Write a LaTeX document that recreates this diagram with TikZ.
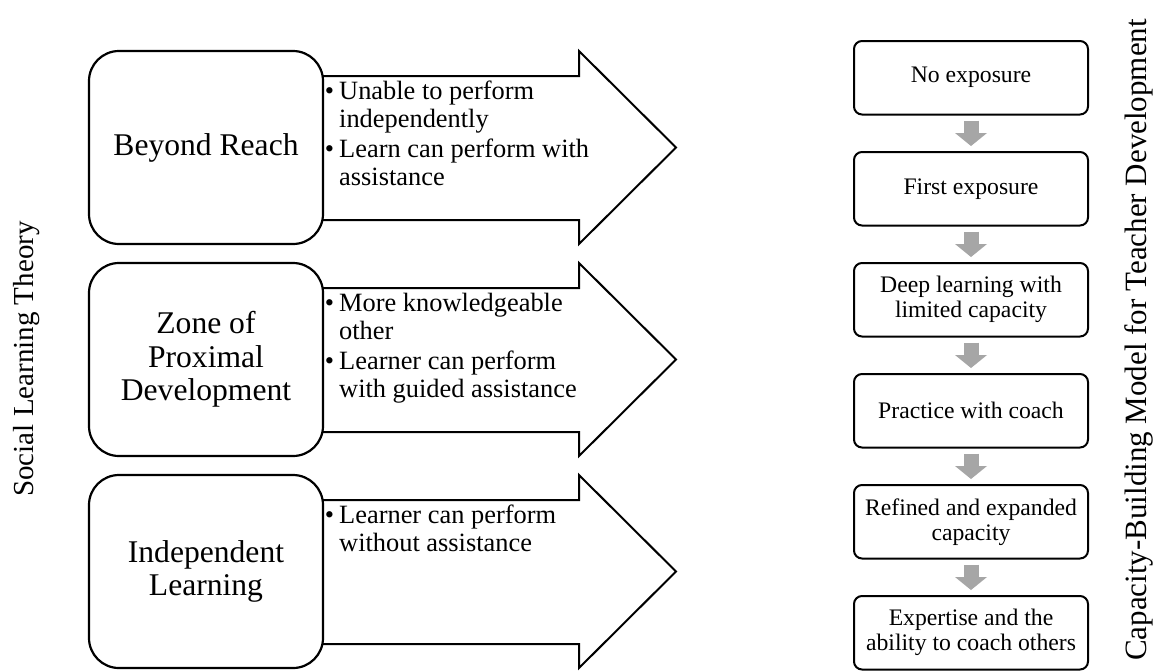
\documentclass[tikz,border=0pt]{standalone}
\usepackage{fontspec}
\setmainfont{Liberation Serif}
\usetikzlibrary{arrows.meta}
\begin{document}
\begin{tikzpicture}[x=1pt,y=-1pt,
  lbox/.style={draw, line width=2.2pt, fill=white, rounded corners=30pt, minimum width=234pt, minimum height=193pt, align=center, inner sep=0pt, font=\fontsize{31.6}{33.3}\selectfont},
  rbox/.style={draw, line width=2pt, fill=white, rounded corners=8pt, minimum width=234pt, minimum height=73.5pt, align=center, inner sep=0pt, font=\fontsize{23.7}{25}\selectfont},
  bigarrow/.style={draw, line width=2pt, fill=white, line join=miter},
  bultext/.style={anchor=north west, inner sep=0pt, align=left, font=\fontsize{26.4}{28}\selectfont},
  graya/.style={draw=black!35, line width=15pt, -{Triangle[width=32pt,length=13pt,line width=0pt]}, shorten <=5pt, shorten >=5pt},
  side/.style={rotate=90, inner sep=0pt}
]
\useasboundingbox (0,0) rectangle (1153,670);
\fill[white] (0,0) rectangle (1153,670);

% big arrows (behind the boxes)
\draw[bigarrow] (300,76) -- (579,76) -- (579,51) -- (676,147.5) -- (579,244) -- (579,220) -- (300,220) -- cycle;
\draw[bigarrow] (300,288) -- (579,288) -- (579,263) -- (676,359.5) -- (579,456) -- (579,432) -- (300,432) -- cycle;
\draw[bigarrow] (300,500) -- (579,500) -- (579,475) -- (676,571.5) -- (579,668) -- (579,644) -- (300,644) -- cycle;

% left boxes
\node[lbox] (b1) at (206,147.5) {Beyond Reach};
\node[lbox] (b2) at (206,359.5) {Zone of\\Proximal\\Development};
\node[lbox] (b3) at (206,571.5) {Independent\\Learning};

% bullet texts
\node[bultext] (t1) at (339,79) {\rule{0pt}{20pt}\llap{\textbullet\hspace{5pt}}Unable to perform\\independently\\[2pt]\llap{\textbullet\hspace{5pt}}Learn can perform with\\assistance};
\node[bultext] (t2) at (339,291) {\rule{0pt}{20pt}\llap{\textbullet\hspace{5pt}}More knowledgeable\\other\\[2pt]\llap{\textbullet\hspace{5pt}}Learner can perform\\with guided assistance};
\node[bultext] (t3) at (339,503) {\rule{0pt}{20pt}\llap{\textbullet\hspace{5pt}}Learner can perform\\without assistance};

% side labels
\node[side, font=\fontsize{29}{31}\selectfont] (slt) at (27,359) {Social Learning Theory};
\node[side, font=\fontsize{31}{33}\selectfont] (cbm) at (1139,340) {Capacity-Building Model for Teacher Development};

% right column
\node[rbox] (r1) at (971,77.75) {No exposure};
\node[rbox] (r2) at (971,188.75) {First exposure};
\node[rbox] (r3) at (971,299.75) {Deep learning with\\limited capacity};
\node[rbox] (r4) at (971,410.75) {Practice with coach};
\node[rbox] (r5) at (971,521.75) {Refined and expanded\\capacity};
\node[rbox] (r6) at (971,632.75) {Expertise and the\\ability to coach others};

\draw[graya] (r1) -- (r2);
\draw[graya] (r2) -- (r3);
\draw[graya] (r3) -- (r4);
\draw[graya] (r4) -- (r5);
\draw[graya] (r5) -- (r6);
\end{tikzpicture}
\end{document}
